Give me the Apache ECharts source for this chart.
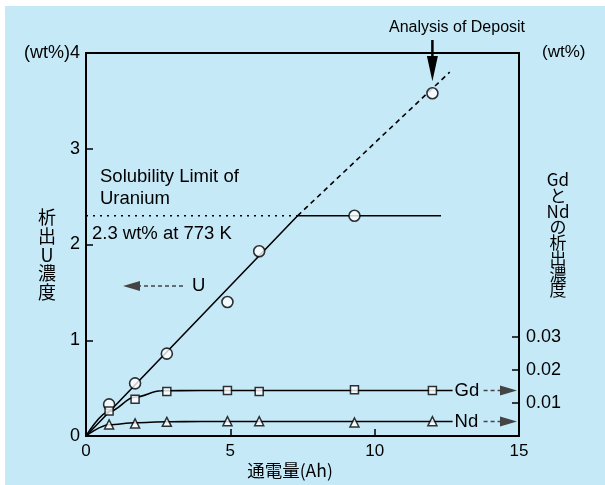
<!DOCTYPE html>
<html>
<head>
<meta charset="utf-8">
<script src="https://cdn.jsdelivr.net/npm/echarts@6/dist/echarts.min.js"></script>
<style>
  html, body { margin: 0; padding: 0; background: #ffffff; }
  #chart { position: absolute; left: 5px; top: 6px; width: 600px; height: 479px; background: #C6E9F8; }
</style>
</head>
<body>
<div id="chart"></div>
<script>
// Charge passed (Ah) at each sampling
const chargeAh = [0.8, 1.7, 2.8, 4.9, 6.0, 9.3, 12.0];
// Deposited U concentration (wt%), left axis
const uWt = [0.33, 0.55, 0.86, 1.40, 1.93, 2.30, 3.58];
// Deposited Gd and Nd concentration (wt%), right axis
const gdWt = [0.0076, 0.0111, 0.0135, 0.0138, 0.0135, 0.0140, 0.0138];
const ndWt = [0.0035, 0.0038, 0.0043, 0.0045, 0.0045, 0.0041, 0.0045];

// Trend lines
const uFitX = [0, 7.33, 12.3];
const uFitY = [0, 2.3, 2.3];
const uExtX = [7.33, 12.6];
const uExtY = [2.3, 3.8];
const solubilityLimit = 2.3;
const gdFitX = [0, 0.8, 1.7, 2.6, 4.0, 12.7];
const gdFitY = [0, 0.0074, 0.0118, 0.0137, 0.0138, 0.0138];
const ndFitX = [0, 0.8, 1.7, 2.8, 4.0, 12.7];
const ndFitY = [0, 0.0034, 0.0040, 0.0043, 0.0044, 0.0044];

// Axis ticks
const xTicks = [0, 5, 10, 15];
const leftTicks = [0, 1, 2, 3, 4];
const rightTicks = [0.01, 0.02, 0.03];

const zip = (xs, ys) => xs.map((x, i) => [x, ys[i]]);

const LATIN = '"Liberation Sans", Arial, sans-serif';
const CJK = '"Noto Sans CJK JP", "Liberation Sans", sans-serif';

const chart = echarts.init(document.getElementById('chart'), null, { renderer: 'canvas' });

const option = {
  animation: false,
  backgroundColor: '#C6E9F8',
  grid: {
    left: 81, right: 86, top: 47, bottom: 49,
    show: true, borderColor: '#000', borderWidth: 2, backgroundColor: 'transparent'
  },
  xAxis: {
    type: 'value', min: xTicks[0], max: xTicks[xTicks.length - 1], interval: xTicks[1] - xTicks[0],
    axisLine: { lineStyle: { color: '#000', width: 2 } },
    axisTick: { inside: true, length: 7, lineStyle: { color: '#000', width: 1.5 } },
    splitLine: { show: false },
    axisLabel: { color: '#000', fontSize: 17, fontFamily: LATIN, margin: 7 }
  },
  yAxis: [
    {
      type: 'value', min: leftTicks[0], max: leftTicks[leftTicks.length - 1], interval: 1,
      axisLine: { show: true, lineStyle: { color: '#000', width: 2 } },
      axisTick: { show: true, inside: true, length: 7, lineStyle: { color: '#000', width: 1.5 } },
      splitLine: { show: false },
      axisLabel: {
        color: '#000', fontSize: 18, fontFamily: LATIN, margin: 6,
        formatter: v => (v === 4 ? '(wt%)4' : String(v))
      }
    },
    {
      type: 'value', min: 0, max: 0.116, position: 'right',
      axisLine: { show: true, lineStyle: { color: '#000', width: 2 } },
      axisTick: { show: true, inside: true, length: 7, customValues: rightTicks, lineStyle: { color: '#000', width: 1.5 } },
      splitLine: { show: false },
      axisLabel: {
        color: '#000', fontSize: 18, fontFamily: LATIN, margin: 7,
        customValues: rightTicks, formatter: v => v.toFixed(2)
      }
    }
  ],
  series: [
    {
      type: 'line', data: zip(uFitX, uFitY), symbol: 'none',
      lineStyle: { color: '#000', width: 1.6 }, z: 3
    },
    {
      type: 'line', data: zip(uExtX, uExtY), symbol: 'none',
      lineStyle: { color: '#000', width: 1.6, type: [5, 4] }, z: 3
    },
    {
      type: 'line', data: [[0, solubilityLimit], [uFitX[1], solubilityLimit]], symbol: 'none',
      lineStyle: { color: '#000', width: 1.6, type: [2, 5] }, z: 3
    },
    {
      type: 'line', data: zip(gdFitX, gdFitY), yAxisIndex: 1, symbol: 'none', smooth: 0.35,
      smoothMonotone: 'x', lineStyle: { color: '#000', width: 1.6 }, z: 3
    },
    {
      type: 'line', data: zip(ndFitX, ndFitY), yAxisIndex: 1, symbol: 'none', smooth: 0.35,
      smoothMonotone: 'x', lineStyle: { color: '#000', width: 1.6 }, z: 3
    },
    {
      type: 'scatter', data: zip(chargeAh, uWt), symbol: 'circle', symbolSize: 11,
      itemStyle: { color: '#fff', borderColor: '#000', borderWidth: 1.6 }, z: 5
    },
    {
      type: 'scatter', data: zip(chargeAh, gdWt), yAxisIndex: 1, symbol: 'rect', symbolSize: 8,
      itemStyle: { color: '#fff', borderColor: '#000', borderWidth: 1.5 }, z: 5
    },
    {
      type: 'scatter', data: zip(chargeAh, ndWt), yAxisIndex: 1, symbol: 'triangle', symbolSize: 9,
      itemStyle: { color: '#fff', borderColor: '#000', borderWidth: 1.5 }, z: 5
    }
  ]
};
chart.setOption(option);

// Annotation layer (chart-local pixel positions)
const txt = (x, y, text, size, extra) => ({
  type: 'text', x, y,
  style: Object.assign({
    text, fill: '#000', fontSize: size, fontFamily: LATIN, verticalAlign: 'middle'
  }, extra || {})
});
const arrowLeft = (xTip, y, xEnd) => ([
  { type: 'line', shape: { x1: xTip + 14, y1: y, x2: xEnd, y2: y }, style: { stroke: '#444', lineWidth: 1.6, lineDash: [4, 3] } },
  { type: 'polygon', shape: { points: [[xTip, y], [xTip + 17, y - 5], [xTip + 17, y + 5]] }, style: { fill: '#444' } }
]);
const arrowRight = (xStart, xTip, y) => ([
  { type: 'line', shape: { x1: xStart, y1: y, x2: xTip - 14, y2: y }, style: { stroke: '#444', lineWidth: 1.6, lineDash: [4, 3] } },
  { type: 'polygon', shape: { points: [[xTip, y], [xTip - 17, y - 5], [xTip - 17, y + 5]] }, style: { fill: '#444' } }
]);

const deposit = chart.convertToPixel({ xAxisIndex: 0, yAxisIndex: 0 }, [chargeAh[6], uWt[6]]);
const gdEnd = chart.convertToPixel({ xAxisIndex: 0, yAxisIndex: 1 }, [gdFitX[5], gdFitY[5]]);
const ndEnd = chart.convertToPixel({ xAxisIndex: 0, yAxisIndex: 1 }, [ndFitX[5], ndFitY[5]]);

chart.setOption({
  graphic: [
    txt(452, 22, 'Analysis of Deposit', 16, { align: 'center' }),
    { type: 'line', shape: { x1: deposit[0], y1: 34, x2: deposit[0], y2: 52 }, style: { stroke: '#000', lineWidth: 2.5 } },
    { type: 'polygon', shape: { points: [[deposit[0] - 5.5, 50], [deposit[0] + 5.5, 50], [deposit[0], deposit[1] - 12]] }, style: { fill: '#000' } },
    txt(537, 46, '(wt%)', 17),
    txt(95, 171, 'Solubility Limit of', 18.5),
    txt(95, 193, 'Uranium', 18.5),
    txt(87, 228, '2.3 wt% at 773 K', 18.5),
    ...arrowLeft(118, 280, 180),
    txt(187, 280, 'U', 18.5),
    txt(gdEnd[0] + 2, gdEnd[1], 'Gd', 18.5),
    ...arrowRight(gdEnd[0] + 31, 512, gdEnd[1]),
    txt(ndEnd[0] + 2, ndEnd[1], 'Nd', 18.5),
    ...arrowRight(ndEnd[0] + 31, 512, ndEnd[1]),
    {
      type: 'text', x: 42, y: 202,
      style: { text: '析\n出\nU\n濃\n度', fill: '#000', fontSize: 18, fontFamily: CJK, align: 'center', lineHeight: 18.7 }
    },
    {
      type: 'text', x: 553, y: 166,
      style: { text: 'Gd\nと\nNd\nの\n析\n出\n濃\n度', fill: '#000', fontSize: 17, fontFamily: CJK, align: 'center', lineHeight: 15.7 }
    },
    txt(285, 464, '通電量(Ah)', 17.5, { align: 'center', fontFamily: CJK })
  ]
});
</script>
</body>
</html>
